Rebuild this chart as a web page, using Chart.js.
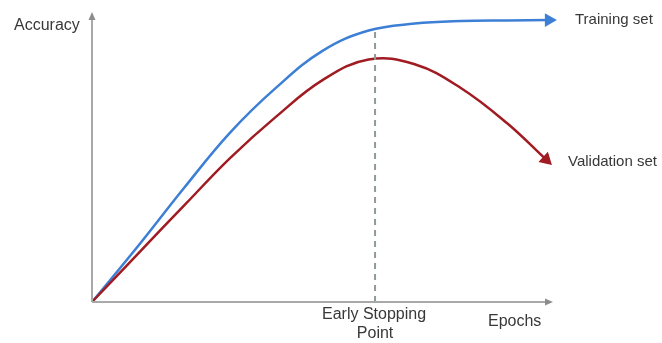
<!DOCTYPE html>
<html>
<head>
<meta charset="utf-8">
<script src="https://cdn.jsdelivr.net/npm/chart.js@4.4.0/dist/chart.umd.min.js"></script>
<style>
  html, body { margin: 0; padding: 0; background: #fff; }
  #chartEarlyStopping { display: block; }
</style>
</head>
<body>
<canvas id="chartEarlyStopping" width="662" height="343"></canvas>
<script>
  /* Datos (epochs 0-100, accuracy 0-100) */
  const trainingEpochs = [0, 10, 20, 30, 40, 50, 60, 70, 80, 90, 99.1];
  const trainingAccuracy = [0, 19.3, 39.4, 58.5, 74.0, 86.6, 93.6, 96.0, 96.9, 97.1, 97.2];

  const validationEpochs = [0, 10, 20, 30, 40, 50, 60, 70, 80, 90, 98.5];
  const validationAccuracy = [0, 16.7, 33.3, 49.7, 64.0, 76.5, 83.6, 82.0, 73.8, 61.7, 49.1];

  const stopEpoch = 61.4;
  const stopAccuracy = [0, 94.5];

  const seriesLabels = ['Training set', 'Validation set'];
  const axisLabels = { x: 'Epochs', y: 'Accuracy' };
  const stopLabel = ['Early Stopping', 'Point'];

  const toPoints = (xs, ys) => xs.map((x, i) => ({ x: x, y: ys[i] }));

  /* Flecha solo en el ultimo punto */
  const arrowRadius = (ctx) => (ctx.dataIndex === ctx.dataset.data.length - 1 ? 8 : 0);

  /* Ejes con flecha y textos */
  const decorations = {
    id: 'decorations',
    afterDatasetsDraw(chart) {
      const { ctx, chartArea } = chart;
      const x = chart.scales.x;
      const y = chart.scales.y;
      const x0 = x.getPixelForValue(0);
      const y0 = y.getPixelForValue(0);

      ctx.save();
      ctx.strokeStyle = '#a9a9a9';
      ctx.lineWidth = 2;

      ctx.beginPath();
      ctx.moveTo(x0, y0);
      ctx.lineTo(x0, chartArea.top + 4);
      ctx.moveTo(x0, y0);
      ctx.lineTo(chartArea.right - 4, y0);
      ctx.stroke();

      ctx.fillStyle = '#8c8c8c';
      ctx.beginPath();
      ctx.moveTo(x0, chartArea.top);
      ctx.lineTo(x0 - 3.5, chartArea.top + 8);
      ctx.lineTo(x0 + 3.5, chartArea.top + 8);
      ctx.closePath();
      ctx.fill();

      ctx.beginPath();
      ctx.moveTo(chartArea.right, y0);
      ctx.lineTo(chartArea.right - 8, y0 - 3.5);
      ctx.lineTo(chartArea.right - 8, y0 + 3.5);
      ctx.closePath();
      ctx.fill();

      ctx.fillStyle = '#383838';
      ctx.textBaseline = 'middle';
      ctx.font = '16px "Liberation Sans", Arial, sans-serif';
      ctx.textAlign = 'left';
      ctx.fillText(axisLabels.y, 14, 26);
      ctx.fillText(axisLabels.x, 488, 322);

      ctx.textAlign = 'center';
      ctx.fillText(stopLabel[0], x.getPixelForValue(stopEpoch) - 1, 315);
      ctx.fillText(stopLabel[1], x.getPixelForValue(stopEpoch), 334);

      ctx.font = '15px "Liberation Sans", Arial, sans-serif';
      ctx.textAlign = 'left';
      ctx.fillText(seriesLabels[0], 575, 20);
      ctx.fillText(seriesLabels[1], 568, 162);
      ctx.restore();
    }
  };

  const cmc = document.getElementById('chartEarlyStopping');
  const chartEarlyStopping = new Chart(cmc, {
    type: 'line',
    plugins: [decorations],
    data: {
      datasets: [
        {
          label: 'Early Stopping Point',
          data: [{ x: stopEpoch, y: stopAccuracy[0] }, { x: stopEpoch, y: stopAccuracy[1] }],
          borderColor: '#8f9b94',
          borderWidth: 2,
          borderDash: [6, 5],
          pointRadius: 0,
          tension: 0,
        },
        {
          label: seriesLabels[1],
          data: toPoints(validationEpochs, validationAccuracy),
          borderColor: '#a01b22',
          backgroundColor: '#a01b22',
          borderWidth: 2.5,
          tension: 0.4,
          pointStyle: 'triangle',
          pointRadius: arrowRadius,
          pointRotation: 133,
          pointBorderWidth: 0,
          clip: false,
        },
        {
          label: seriesLabels[0],
          data: toPoints(trainingEpochs, trainingAccuracy),
          borderColor: '#3c7fd5',
          backgroundColor: '#3c7fd5',
          borderWidth: 2.5,
          tension: 0.4,
          pointStyle: 'triangle',
          pointRadius: arrowRadius,
          pointRotation: 90,
          pointBorderWidth: 0,
          clip: false,
        },
      ],
    },
    options: {
      responsive: false,
      animation: false,
      layout: {
        padding: { left: 92, top: 12, right: 109, bottom: 41 },
      },
      scales: {
        x: { type: 'linear', min: 0, max: 100, display: false },
        y: { type: 'linear', min: 0, max: 100, display: false },
      },
      plugins: {
        legend: { display: false },
        tooltip: { enabled: false },
      },
    },
  });
</script>
</body>
</html>
